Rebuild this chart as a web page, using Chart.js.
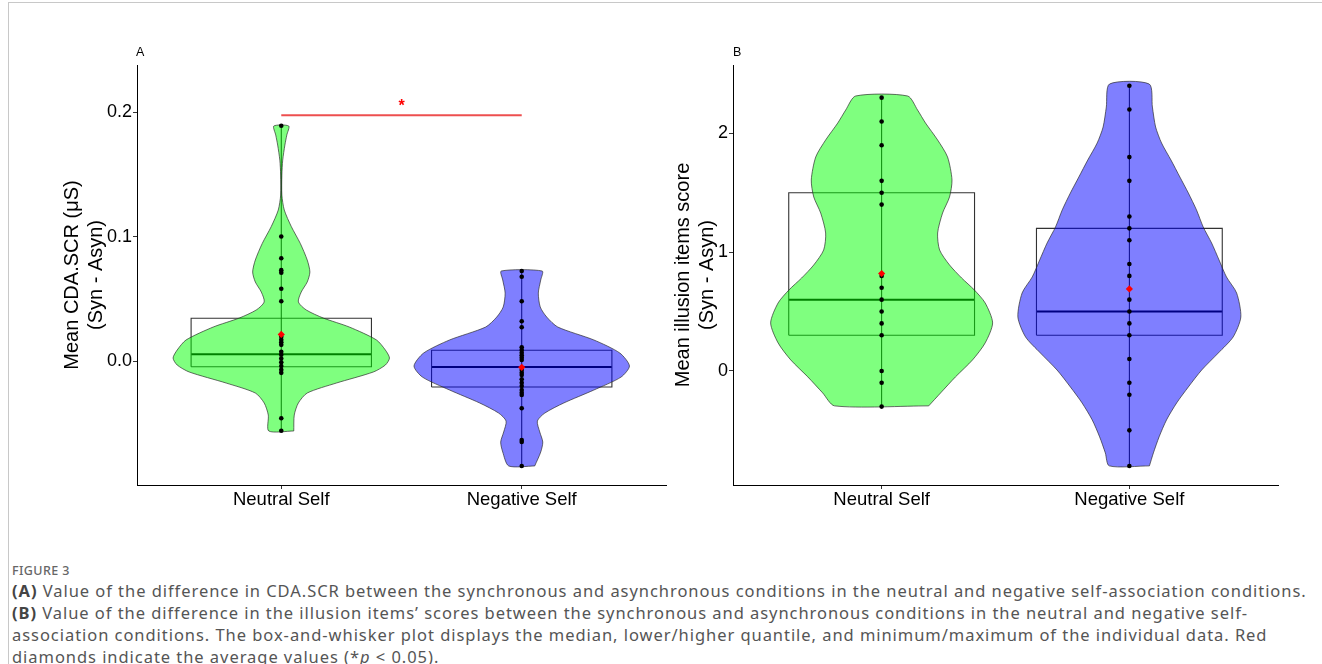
<!DOCTYPE html>
<html><head><meta charset="utf-8">
<script src="https://cdn.jsdelivr.net/npm/chart.js@4.4.1/dist/chart.umd.min.js"></script>
<style>
html,body{margin:0;padding:0;background:#fff;}
body{width:1322px;height:664px;position:relative;overflow:hidden;font-family:"Liberation Sans",Arial,sans-serif;}
#frame{position:absolute;left:8px;top:2px;width:1320px;height:670px;border-top:1px solid #c8c8c8;border-left:1px solid #c8c8c8;}
canvas{position:absolute;}
#ca{left:50px;top:40px;}
#cb{left:664px;top:40px;}
.plab{position:absolute;font-size:12.5px;color:#000;line-height:14px;}
#cap{position:absolute;left:12px;top:561px;font-family:"Noto Sans",sans-serif;color:#555;white-space:nowrap;}
#cap .fig{font-size:12.5px;font-weight:500;color:#666;letter-spacing:0.4px;line-height:19px;}
#cap .l{font-size:16.5px;line-height:22px;letter-spacing:0.95px;}
#cap b{color:#444;}
</style></head>
<body>
<div id="frame"></div>
<canvas id="ca" width="626" height="480"></canvas>
<canvas id="cb" width="626" height="480"></canvas>
<div class="plab" style="left:136px;top:45px;">A</div>
<div class="plab" style="left:733px;top:45px;">B</div>
<div id="cap">
<div class="fig">FIGURE 3</div>
<div class="l"><b>(A)</b> Value of the difference in CDA.SCR between the synchronous and asynchronous conditions in the neutral and negative self-association conditions.</div>
<div class="l"><b>(B)</b> Value of the difference in the illusion items’ scores between the synchronous and asynchronous conditions in the neutral and negative self-</div>
<div class="l">association conditions. The box-and-whisker plot displays the median, lower/higher quantile, and minimum/maximum of the individual data. Red</div>
<div class="l">diamonds indicate the average values (*<i>p</i> &lt; 0.05).</div>
</div>
<script>
// ---------- data ----------
const categories = ['Neutral Self', 'Negative Self'];

// Panel A: Mean CDA.SCR (Syn - Asyn)
const scrNeutral = [0.189, 0.1, 0.0825, 0.073, 0.071, 0.058, 0.048, 0.0195, 0.017, 0.015, 0.013,
  0.0075, 0.005, 0.002, -0.001, -0.004, -0.007, -0.0095, -0.046, -0.056];
const scrNegative = [0.0723, 0.0677, 0.048, 0.0319, 0.0271, 0.011, 0.0088, 0.0067, 0.0046, 0.0027, 0.0008,
  -0.0072, -0.0094, -0.0112, -0.0147, -0.0174, -0.0201, -0.0233, -0.0255, -0.0273, -0.038, -0.0635, -0.065, -0.0843];
const scrMeans = [0.0214, -0.0051];
const scrQ1 = [-0.0046, -0.0209];
const scrMedian = [0.0054, -0.0048];
const scrQ3 = [0.0343, 0.0086];
const scrTicks = [0, 0.1, 0.2];
const scrTickLabels = ['0.0', '0.1', '0.2'];
const scrSigLevel = 0.1975;
const scrStarLevel = 0.2045;
// violin outlines: [value, half width in category units]
const scrViolinNeutral = [[0.1888,0.031],[0.1815,0.023],[0.1735,0.015],[0.1614,0.006],[0.1494,0.0025],[0.1333,0.0025],
  [0.1213,0.0125],[0.1079,0.042],[0.0945,0.079],[0.0811,0.108],[0.0715,0.119],[0.0635,0.108],[0.0554,0.083],
  [0.0474,0.071],[0.041,0.104],[0.0345,0.175],[0.0273,0.283],[0.0169,0.396],[0.0088,0.433],[0.0024,0.45],
  [-0.0032,0.433],[-0.0088,0.383],[-0.0177,0.229],[-0.0257,0.108],[-0.0337,0.071],[-0.0434,0.054],[-0.0562,0.052]];
const scrViolinNegative = [[0.0723,0.085],[0.0651,0.079],[0.0546,0.069],[0.0434,0.077],[0.0353,0.104],[0.0273,0.15],
  [0.0169,0.3],[0.0064,0.408],[-0.004,0.448],[-0.0129,0.413],[-0.0233,0.3],[-0.0337,0.175],[-0.0418,0.096],
  [-0.0482,0.065],[-0.057,0.075],[-0.0651,0.0875],[-0.0731,0.079],[-0.0843,0.054]];

// Panel B: Mean illusion items score (Syn - Asyn)
const illNeutral = [2.3, 2.1, 1.9, 1.6, 1.5, 1.4, 0.8, 0.7, 0.6, 0.5, 0.4, 0.3, 0, -0.1, -0.3];
const illNegative = [2.4, 2.2, 1.8, 1.6, 1.3, 1.2, 1.1, 0.9, 0.8, 0.6, 0.5, 0.4, 0.3, 0.1, -0.1, -0.2, -0.5, -0.8];
const illMeans = [0.82, 0.69];
const illQ1 = [0.3, 0.3];
const illMedian = [0.6, 0.5];
const illQ3 = [1.5, 1.2];
const illTicks = [0, 1, 2];
const illTickLabels = ['0', '1', '2'];
const illViolinNeutral = [[2.314,0.105],[2.196,0.145],[2.087,0.177],[1.944,0.226],[1.801,0.266],[1.607,0.284],
  [1.464,0.274],[1.329,0.246],[1.161,0.226],[1.018,0.234],[0.892,0.274],[0.782,0.323],[0.682,0.374],[0.572,0.418],
  [0.404,0.448],[0.236,0.418],[0.093,0.367],[-0.05,0.298],[-0.185,0.238],[-0.294,0.19]];
const illViolinNegative = [[2.415,0.08],[2.221,0.093],[2.053,0.106],[1.918,0.13],[1.775,0.168],[1.632,0.204],
  [1.498,0.238],[1.355,0.271],[1.212,0.298],[1.077,0.332],[0.934,0.362],[0.791,0.392],[0.656,0.433],[0.454,0.45],
  [0.286,0.419],[0.151,0.359],[0.008,0.292],[-0.135,0.238],[-0.269,0.191],[-0.412,0.15],[-0.555,0.12],
  [-0.69,0.097],[-0.799,0.081]];

// ---------- styling ----------
const BOX_HALF = 0.375;
const FILLS = ['rgba(0,255,0,0.5)', 'rgba(0,0,255,0.5)'];
const AXIS_FONT = '"Liberation Sans", Arial, sans-serif';

function violinPolygon(profile, center) {
  const right = profile.slice().reverse().map(p => ({x: center + p[1], y: p[0]}));
  const left = profile.map(p => ({x: center - p[1], y: p[0]}));
  const pts = right.concat(left);
  pts.push(pts[0]);
  return pts;
}
function lineDS(data, color, width, order) {
  return {type: 'scatter', data, showLine: true, borderColor: color, borderWidth: width,
    pointRadius: 0, fill: false, order, tension: 0};
}

function buildDatasets(groups, means, q1, med, q3, violins, extra) {
  const ds = [];
  groups.forEach((vals, i) => {
    const c = i + 1;
    const lo = Math.min(...vals), hi = Math.max(...vals);
    ds.push(lineDS([{x: c, y: lo}, {x: c, y: hi}], '#111', 1, 10));
    ds.push(lineDS([{x: c - BOX_HALF, y: q1[i]}, {x: c + BOX_HALF, y: q1[i]}, {x: c + BOX_HALF, y: q3[i]},
      {x: c - BOX_HALF, y: q3[i]}, {x: c - BOX_HALF, y: q1[i]}], '#333', 1.1, 10));
    ds.push(lineDS([{x: c - BOX_HALF, y: med[i]}, {x: c + BOX_HALF, y: med[i]}], '#000', 2, 10));
    ds.push({type: 'scatter', data: violinPolygon(violins[i], c), showLine: true, borderColor: 'rgba(40,40,40,0.85)',
      borderWidth: 0.8, backgroundColor: FILLS[i], fill: 'shape', pointRadius: 0, order: 5, tension: 0.25});
    ds.push({type: 'scatter', data: vals.map(v => ({x: c, y: v})), pointRadius: 2.3, pointBackgroundColor: '#000',
      pointBorderWidth: 0, order: 2});
    ds.push({type: 'scatter', data: [{x: c, y: means[i]}], pointStyle: 'rectRot', pointRadius: 3.6,
      pointBackgroundColor: '#ff0000', pointBorderWidth: 0, order: 1});
  });
  return ds.concat(extra || []);
}

const starPlugin = {
  id: 'sigStar',
  afterDatasetsDraw(chart, args, opts) {
    if (!opts || !opts.text) return;
    const {ctx, scales: {x, y}} = chart;
    ctx.save();
    ctx.fillStyle = opts.color;
    ctx.font = 'bold 16px ' + AXIS_FONT;
    ctx.textAlign = 'center';
    ctx.textBaseline = 'middle';
    ctx.fillText(opts.text, x.getPixelForValue(opts.x), y.getPixelForValue(opts.y));
    ctx.restore();
  }
};

function makeChart(id, datasets, yMin, yMax, yTicks, yTickLabels, title, yWidth, titlePad, padRight, star) {
  return new Chart(document.getElementById(id), {
    type: 'scatter',
    data: {datasets},
    plugins: [starPlugin],
    options: {
      responsive: false, animation: false, events: [],
      layout: {padding: {top: 25, right: padRight, bottom: 5, left: 0}},
      plugins: {legend: {display: false}, tooltip: {enabled: false}, sigStar: star || {}},
      scales: {
        x: {
          type: 'linear', min: 0.4, max: 2.6,
          afterBuildTicks: s => { s.ticks = categories.map((c, i) => ({value: i + 1})); },
          afterFit: s => { s.height = 30; },
          ticks: {callback: v => categories[Math.round(v) - 1], font: {size: 18.5, family: AXIS_FONT},
            color: '#000', padding: 0, autoSkip: false, maxRotation: 0},
          grid: {drawOnChartArea: false, drawTicks: true, tickLength: 4, color: '#333'},
          border: {display: true, color: '#000', width: 1}
        },
        y: {
          type: 'linear', min: yMin, max: yMax,
          afterBuildTicks: s => { s.ticks = yTicks.map(v => ({value: v})); },
          afterFit: s => { s.width = yWidth; },
          ticks: {callback: (v) => yTickLabels[yTicks.indexOf(v)], font: {size: 18, family: AXIS_FONT},
            color: '#000', padding: 1, autoSkip: false},
          grid: {drawOnChartArea: false, drawTicks: true, tickLength: 4, color: '#333'},
          border: {display: true, color: '#000', width: 1},
          title: {display: true, text: title, font: {size: 20, family: AXIS_FONT, lineHeight: 1.2},
            color: '#000', padding: {top: titlePad, bottom: 0}}
        }
      }
    }
  });
}

const sigLine = lineDS([{x: 1, y: scrSigLevel}, {x: 2, y: scrSigLevel}], 'rgba(235,60,60,0.9)', 2, 1);

makeChart('ca',
  buildDatasets([scrNeutral, scrNegative], scrMeans, scrQ1, scrMedian, scrQ3, [scrViolinNeutral, scrViolinNegative], [sigLine]),
  -0.0996, 0.2378, scrTicks, scrTickLabels, ['Mean CDA.SCR (μS)', '(Syn - Asyn)'], 87, 10, 10,
  {text: '*', x: 1.5, y: scrStarLevel, color: '#ff0000'});

makeChart('cb',
  buildDatasets([illNeutral, illNegative], illMeans, illQ1, illMedian, illQ3, [illViolinNeutral, illViolinNegative]),
  -0.96, 2.575, illTicks, illTickLabels, ['Mean illusion items score', '(Syn - Asyn)'], 69, 7, 12, null);
</script>
</body></html>
